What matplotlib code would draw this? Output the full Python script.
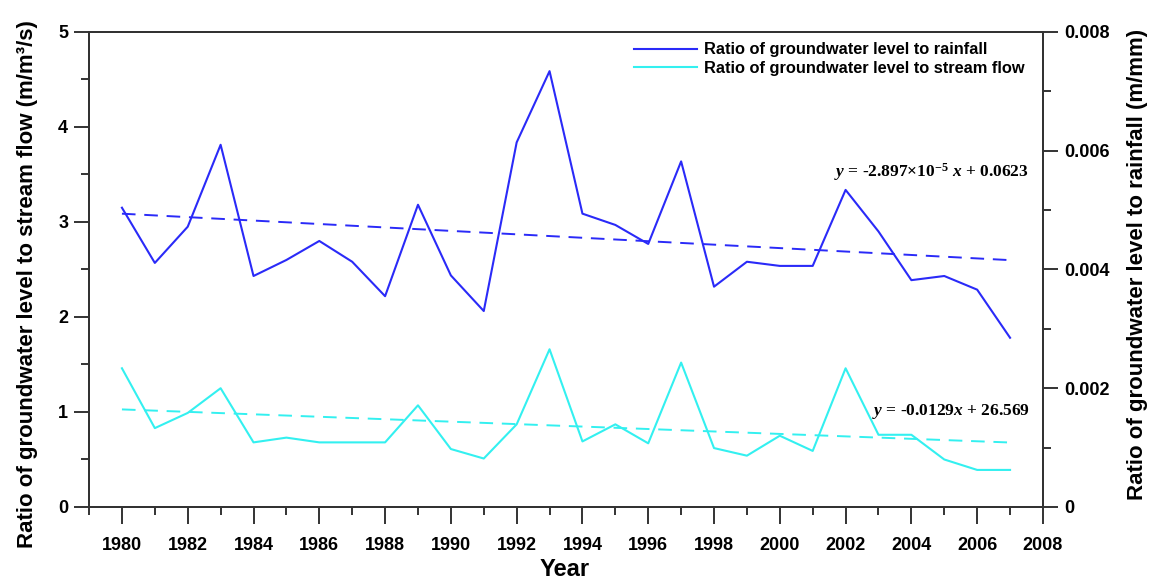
import numpy as np
import matplotlib
matplotlib.use("Agg")
import matplotlib.pyplot as plt
from matplotlib.ticker import MultipleLocator

plt.rcParams.update({
    "font.family":        "Liberation Sans",
    "font.weight":        "bold",
    "mathtext.fontset":   "custom",
    "mathtext.rm":        "Liberation Serif:bold",
    "mathtext.it":        "Liberation Serif:bold:italic",
    "mathtext.bf":        "Liberation Serif:bold",
    "axes.linewidth":     1.4,
})

# ── data ─────────────────────────────────────────────────────
years = np.arange(1980, 2008)

# ratio of groundwater level to rainfall (m/mm) -> right axis
rain_ratio = [0.00504, 0.00411, 0.00472, 0.00610, 0.00389, 0.00416, 0.00448,
              0.00413, 0.00355, 0.00509, 0.00390, 0.00330, 0.00614, 0.00734,
              0.00494, 0.00475, 0.00443, 0.00582, 0.00371, 0.00413, 0.00406,
              0.00406, 0.00534, 0.00464, 0.00382, 0.00389, 0.00366, 0.00285]

# ratio of groundwater level to stream flow (m/m3/s) -> left axis
flow_ratio = [1.46, 0.83, 0.99, 1.25, 0.68, 0.73, 0.68, 0.68, 0.68, 1.07,
              0.61, 0.51, 0.87, 1.66, 0.69, 0.87, 0.67, 1.52, 0.62, 0.54,
              0.75, 0.59, 1.46, 0.76, 0.76, 0.50, 0.39, 0.39]

# linear trends as printed on the chart
rain_fit = (-2.897e-5, 0.0623)
flow_fit = (-0.0129, 26.569)

BLUE = "#2a2af8"
CYAN = "#33f0f0"
SPINE = "#333333"
DASH = (0, (7, 4.5))

fig = plt.figure(figsize=(11.49, 5.81), dpi=100)
ax = fig.add_axes([0.0775, 0.1274, 0.8302, 0.8176])
ax2 = ax.twinx()

# stream flow on left axis
ax.plot(years, flow_ratio, color=CYAN, lw=1.5, zorder=3)
ax.plot(years, np.polyval(flow_fit, years), color=CYAN, lw=1.4,
        ls=DASH, zorder=3)

# rainfall on right axis
l_rain, = ax2.plot(years, rain_ratio, color=BLUE, lw=1.5, zorder=3)
ax2.plot(years, np.polyval(rain_fit, years), color=BLUE, lw=1.4,
         ls=DASH, zorder=3)

ax.set_xlim(1979, 2008)
ax.set_ylim(0, 5)
ax2.set_ylim(0, 0.008)

ax.set_xticks(np.arange(1980, 2009, 2))
ax.set_xticks(np.arange(1979, 2009, 2), minor=True)
ax.yaxis.set_major_locator(MultipleLocator(1))
ax.yaxis.set_minor_locator(MultipleLocator(0.5))
ax2.set_yticks([0, 0.002, 0.004, 0.006, 0.008])
ax2.set_yticklabels(["0", "0.002", "0.004", "0.006", "0.008"])
ax2.yaxis.set_minor_locator(MultipleLocator(0.001))

for a in (ax, ax2):
    for s in a.spines.values():
        s.set_color(SPINE)
        s.set_linewidth(1.4)
    a.tick_params(which="major", direction="out", length=11, width=1.4,
                  color=SPINE, labelsize=13, pad=4)
    a.tick_params(which="minor", direction="out", length=6, width=1.4,
                  color=SPINE)
ax.tick_params(axis="x", which="major", length=12.5, pad=9)

ax.set_ylabel("Ratio of groundwater level to stream flow (m/m³/s)",
              fontsize=16, fontweight="bold")
ax.yaxis.set_label_coords(-0.053, 0.47)
ax2.set_ylabel("Ratio of groundwater level to rainfall (m/mm)",
               fontsize=16, fontweight="bold")
ax2.yaxis.set_label_coords(1.088, 0.51)
ax.set_xlabel("Year", fontsize=17, fontweight="bold")
ax.xaxis.set_label_coords(0.499, -0.107)

# legend
l_flow = plt.Line2D([], [], color=CYAN, lw=1.5)
ax2.legend([l_rain, l_flow],
           ["Ratio of groundwater level to rainfall",
            "Ratio of groundwater level to stream flow"],
           loc="upper left", bbox_to_anchor=(0.571, 0.978), frameon=False,
           fontsize=11.8, handlelength=3.85, handletextpad=0.45,
           labelspacing=0.2, borderpad=0, borderaxespad=0)

# trend equations
ax.text(2007.55, 3.53, r"$y$ = -2.897$\times$10$^{-5}$ $x$ + 0.0623",
        family="Liberation Serif", fontweight="bold", fontsize=12.5,
        ha="right", va="center")
ax.text(2007.6, 1.01, r"$y$ = -0.0129$x$ + 26.569",
        family="Liberation Serif", fontweight="bold", fontsize=12.5,
        ha="right", va="center")

fig.savefig("out.png", dpi=100)
